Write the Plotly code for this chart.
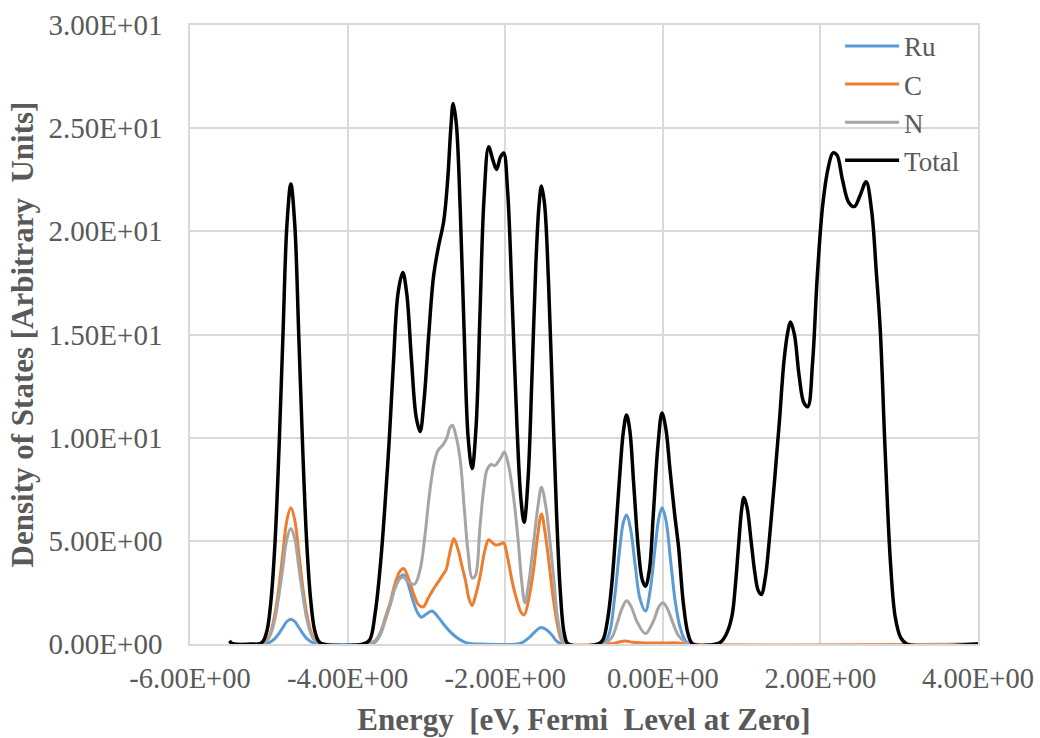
import plotly.graph_objects as go

# --- data (energy in eV, DOS in arbitrary units) ---
ru_e = [-5.50, -5.12, -5.02, -4.97, -4.92, -4.87, -4.82, -4.77, -4.72, -4.67, -4.62, -4.57, -4.52, -4.47, -4.42, -4.32,
        -3.75, -3.65, -3.58, -3.52, -3.46, -3.40, -3.34, -3.29, -3.24, -3.17, -3.11, -3.06, -3.00, -2.93, -2.86, -2.79,
        -2.70, -2.62, -2.53, -2.45, -2.35,
        -1.85, -1.78, -1.70, -1.62, -1.55, -1.48, -1.41, -1.35, -1.28,
        -0.76, -0.68, -0.61, -0.55, -0.50, -0.46, -0.41, -0.35, -0.29, -0.22, -0.16, -0.10, -0.05, -0.01, 0.04, 0.10,
        0.16, 0.22, 0.28, 0.34, 4.00]
ru_dos = [0.0, 0.0, 0.04, 0.12, 0.27, 0.51, 0.81, 1.09, 1.2, 1.09, 0.81, 0.51, 0.27, 0.12, 0.04, 0.0,
          0.0, 0.1, 0.5, 1.2, 1.9, 2.7, 3.2, 3.35, 3.0, 2.1, 1.5, 1.3, 1.45, 1.6, 1.35, 1.0,
          0.6, 0.33, 0.12, 0.02, 0.0,
          0.0, 0.08, 0.3, 0.6, 0.8, 0.7, 0.45, 0.15, 0.0,
          0.0, 0.5, 2.3, 4.5, 5.9, 6.25, 5.6, 3.8, 2.2, 1.6, 2.6, 4.6, 6.1, 6.6, 6.0, 4.0,
          2.0, 0.8, 0.2, 0.0, 0.0]

c_e = [-5.50, -5.12, -5.02, -4.97, -4.92, -4.87, -4.82, -4.77, -4.72, -4.67, -4.62, -4.57, -4.52, -4.47, -4.42, -4.32,
       -3.75, -3.65, -3.58, -3.52, -3.46, -3.40, -3.34, -3.29, -3.23, -3.16, -3.10, -3.04, -2.98, -2.92, -2.86, -2.80,
       -2.75, -2.72, -2.68, -2.65, -2.60, -2.55, -2.50, -2.46, -2.42, -2.38, -2.32, -2.26, -2.21, -2.16, -2.12, -2.06,
       -2.02, -1.97, -1.91, -1.85, -1.80, -1.76, -1.70, -1.64, -1.59, -1.54, -1.49, -1.44, -1.39, -1.33, -1.28, -1.22,
       -0.70, -0.60, -0.48, -0.38, -0.20, 0.00, 0.20, 0.30, 4.00]
c_dos = [0.0, 0.0, 0.2, 0.65, 1.5, 2.8, 4.45, 6.0, 6.6, 6.0, 4.45, 2.8, 1.5, 0.65, 0.2, 0.0,
         0.0, 0.15, 0.6, 1.3, 2.0, 2.9, 3.5, 3.66, 3.2, 2.4, 1.9, 1.8, 2.2, 2.6, 2.95, 3.3,
         3.6, 4.1, 4.8, 5.1, 4.6, 3.8, 3.0, 2.2, 1.87, 2.3, 3.25, 4.5, 5.05, 4.9, 4.8, 4.85,
         4.9, 4.2, 3.0, 2.1, 1.55, 1.4, 2.2, 3.6, 5.2, 6.3, 5.3, 3.8, 2.2, 0.8, 0.15, 0.0,
         0.0, 0.05, 0.15, 0.08, 0.05, 0.05, 0.05, 0.0, 0.0]

n_e = [-5.50, -5.12, -5.02, -4.97, -4.92, -4.87, -4.82, -4.77, -4.72, -4.67, -4.62, -4.57, -4.52, -4.47, -4.42, -4.32,
       -3.75, -3.65, -3.58, -3.52, -3.46, -3.40, -3.34, -3.29, -3.23, -3.15, -3.08, -3.02, -2.96, -2.90, -2.85, -2.79,
       -2.74, -2.70, -2.67, -2.62, -2.57, -2.52, -2.47, -2.42, -2.38, -2.32, -2.27, -2.23, -2.18, -2.13, -2.06, -2.01,
       -1.96, -1.90, -1.84, -1.79, -1.75, -1.70, -1.64, -1.58, -1.54, -1.49, -1.43, -1.38, -1.34, -1.29, -1.24,
       -0.76, -0.65, -0.58, -0.52, -0.46, -0.40, -0.33, -0.22, -0.12, -0.05, 0.00, 0.06, 0.13, 0.20, 0.28, 0.34, 4.00]
n_dos = [0.0, 0.0, 0.18, 0.55, 1.25, 2.4, 3.75, 5.1, 5.6, 5.1, 3.75, 2.4, 1.25, 0.55, 0.18, 0.0,
         0.0, 0.15, 0.55, 1.2, 1.9, 2.7, 3.15, 3.25, 3.0, 2.9, 3.6, 5.2, 7.3, 8.8, 9.4, 9.65,
         10.0, 10.5, 10.6, 10.0, 8.9, 6.6, 4.4, 3.2, 3.3, 5.7, 7.6, 8.45, 8.7, 8.65, 9.0, 9.3,
         8.7, 7.3, 5.2, 3.0, 2.0, 3.0, 4.9, 6.8, 7.6, 6.8, 4.9, 3.0, 1.4, 0.4, 0.0,
         0.0, 0.3, 1.0, 1.7, 2.1, 1.8, 1.1, 0.5, 1.1, 1.8, 2.0, 1.7, 1.0, 0.4, 0.1, 0.0, 0.0]

tot_e = [-5.50, -5.45, -5.20, -5.12, -5.07, -5.02, -4.97, -4.92, -4.87, -4.82, -4.77, -4.72, -4.67, -4.62, -4.57,
         -4.52, -4.47, -4.42, -4.37, -4.32,
         -3.80, -3.72, -3.65, -3.58, -3.53, -3.47, -3.42, -3.36, -3.30, -3.25, -3.19, -3.13, -3.08, -3.03, -2.97,
         -2.91, -2.85, -2.78, -2.73, -2.69, -2.66, -2.62, -2.57, -2.52, -2.47, -2.42, -2.37, -2.32, -2.27, -2.21,
         -2.16, -2.11, -2.06, -2.02, -1.97, -1.91, -1.85, -1.80, -1.76, -1.71, -1.66, -1.61, -1.57, -1.54, -1.50,
         -1.45, -1.40, -1.35, -1.30, -1.25, -1.20,
         -0.82, -0.76, -0.70, -0.65, -0.61, -0.55, -0.50, -0.46, -0.42, -0.37, -0.31, -0.26, -0.22, -0.17, -0.12,
         -0.06, -0.01, 0.04, 0.09, 0.15, 0.20, 0.26, 0.32, 0.38,
         0.68, 0.75, 0.82, 0.88, 0.92, 0.96, 1.00, 1.03, 1.07, 1.12, 1.17, 1.21, 1.25, 1.30, 1.36, 1.42, 1.48,
         1.54, 1.59, 1.62, 1.67, 1.73, 1.79, 1.84, 1.90, 1.96, 2.03, 2.10, 2.16, 2.21, 2.28, 2.36, 2.43, 2.50,
         2.58, 2.65, 2.71, 2.76, 2.82, 2.89, 2.95, 3.02, 3.10, 4.00]
tot_dos = [0.15, 0.0, 0.0, 0.0, 0.15, 0.7, 2.2, 5.0, 9.5, 15.0, 20.3, 22.3, 20.3, 15.0, 9.5,
           5.0, 2.2, 0.7, 0.15, 0.0,
           0.0, 0.2, 1.5, 4.0, 6.5, 10.0, 13.5, 17.0, 18.0, 17.0, 13.8, 11.0, 10.3, 11.8, 15.0,
           17.8, 19.2, 20.5, 22.5, 25.0, 26.2, 25.2, 21.0, 15.0, 10.0, 8.5, 10.5, 16.0, 21.5, 24.1,
           23.5, 23.0, 23.6, 23.8, 22.0, 16.5, 10.5, 7.0, 5.9, 8.0, 13.0, 18.5, 21.3, 22.2, 21.3,
           17.5, 12.0, 6.5, 2.5, 0.5, 0.0,
           0.0, 0.2, 1.2, 2.8, 4.7, 8.0, 10.3, 11.1, 10.4, 7.8, 4.6, 3.1, 2.8, 3.6, 6.3,
           9.7, 11.2, 10.4, 8.5, 6.3, 4.7, 2.0, 0.5, 0.0,
           0.0, 0.15, 0.6, 1.4, 2.8, 4.7, 6.5, 7.1, 6.6, 5.0, 3.4, 2.6, 2.4, 3.2, 5.4, 8.0, 10.8,
           13.8, 15.2, 15.6, 15.0, 13.0, 11.7, 11.5, 13.6, 17.8, 21.3, 23.1, 23.8, 23.7, 22.5, 21.4, 21.2, 21.7,
           22.4, 21.0, 18.0, 15.2, 9.5, 3.9, 1.3, 0.3, 0.0, 0.0]

x_ticks = [-6, -4, -2, 0, 2, 4]
x_tick_text = ["-6.00E+00", "-4.00E+00", "-2.00E+00", "0.00E+00", "2.00E+00", "4.00E+00"]
y_ticks = [0, 5, 10, 15, 20, 25, 30]
y_tick_text = ["0.00E+00", "5.00E+00", "1.00E+01", "1.50E+01", "2.00E+01", "2.50E+01", "3.00E+01"]

FONT = "Liberation Serif, Times New Roman, serif"
TEXT = "#595959"
GRID = "#D9D9D9"

fig = go.Figure()

series = [
    ("Ru", ru_e, ru_dos, "#5B9BD5", 3),
    ("C", c_e, c_dos, "#ED7D31", 3),
    ("N", n_e, n_dos, "#A5A5A5", 3),
    ("Total", tot_e, tot_dos, "#000000", 3.5),
]
for name, xs, ys, color, width in series:
    fig.add_trace(go.Scatter(
        x=xs, y=ys, name=name, mode="lines",
        line=dict(color=color, width=width, shape="spline", smoothing=1.0),
    ))

# fixed margins (no automargin); the body margin is removed after plotting
fig.update_layout(
    width=1040, height=738,
    margin=dict(l=190, r=62, t=25, b=94),
    plot_bgcolor="white", paper_bgcolor="white",
    font=dict(family=FONT, size=29, color=TEXT),
    showlegend=True,
    legend=dict(
        x=0.825, y=1.005, xanchor="left", yanchor="top",
        bgcolor="rgba(0,0,0,0)", font=dict(size=27, color=TEXT),
        itemwidth=54, tracegroupgap=0,
    ),
    xaxis=dict(
        range=[-6, 4], tickvals=x_ticks, ticktext=x_tick_text,
        tickfont=dict(size=28.5),
        automargin=False, ticklabeloverflow="allow",
        showgrid=True, gridcolor=GRID, gridwidth=1.5,
        showline=True, linecolor=GRID, linewidth=1.5, mirror=True,
        zeroline=False, ticks="", ticklabelstandoff=8,
        title=dict(text="<b>Energy\u00a0 [eV, Fermi\u00a0 Level at Zero]</b>",
                   font=dict(size=31, color=TEXT), standoff=15),
    ),
    yaxis=dict(
        range=[0, 30], tickvals=y_ticks, ticktext=y_tick_text,
        automargin=False, ticklabeloverflow="allow",
        showgrid=True, gridcolor=GRID, gridwidth=1.5,
        showline=True, linecolor=GRID, linewidth=1.5, mirror=True,
        zeroline=False, ticks="", ticklabelstandoff=20,
        title=dict(text="<b>Density of States [Arbitrary\u00a0 Units]</b>",
                   font=dict(size=31, color=TEXT), standoff=6),
    ),
)

fig.write_html(
    "out.html",
    config={"displayModeBar": False},
    post_script="document.body.style.margin='0'; document.body.style.overflow='hidden';",
)
